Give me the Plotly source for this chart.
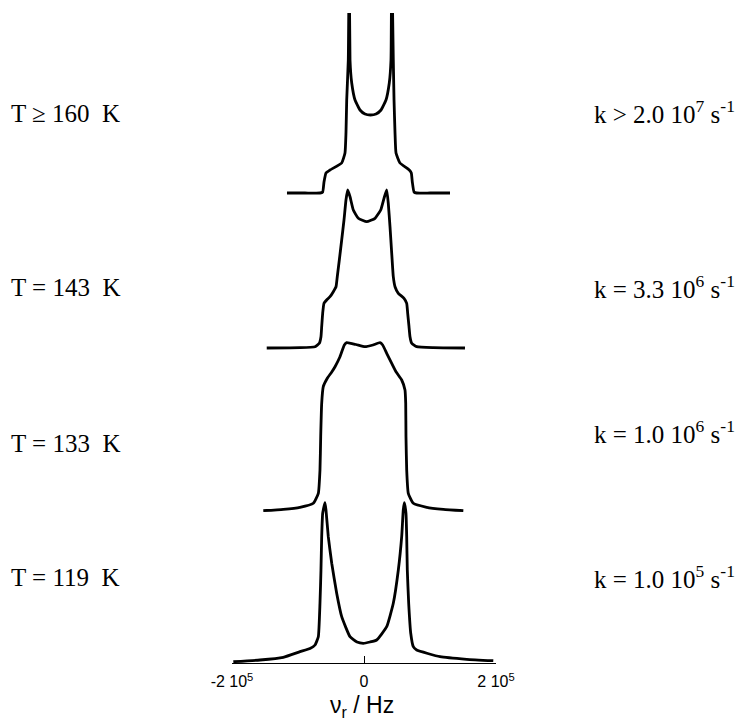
import plotly.graph_objects as go

# Frequency axis (kHz) and line intensity (arbitrary units) for each temperature.
freq_160 = [-116.7, -89.4, -66.7, -62.6, -60.6, -57.6, -51.5, -33.8, -28.8, -27.3, -26.2,
            -23.8, -22.4, -21.2, -18.6, -13.6, -6.1, 1.5, 9.8, 18.2, 25.8, 33.3, 38.3,
            40.9, 42.0, 44.4, 45.5, 47.0, 48.5, 54.5, 68.6, 71.7, 73.2, 75.8, 79.8, 100.0, 130.3]
int_160 = [0, 0, 0, 1, 11, 20, 23, 30, 40, 60, 93,
           133, 233, 133, 110, 93, 83, 79, 78, 79, 83, 93, 110,
           133, 233, 133, 93, 60, 40, 30, 23, 20, 11, 1, 0, 0, 0]

freq_143 = [-147.4, -97.0, -74.2, -67.7, -65.2, -64.1, -62.6, -60.6, -55.6, -51.5, -46.5,
            -42.4, -40.5, -37.4, -33.8, -30.3, -27.3, -24.7, -21.2, -16.2, -8.6, 4.1,
            16.7, 25.3, 30.3, 34.4, 36.8, 39.4, 42.0, 44.4, 47.0, 52.0, 60.6, 64.7,
            66.2, 68.2, 69.7, 72.3, 79.8, 105.0, 153.0]
int_143 = [0, 0.3, 1.3, 4.7, 11.3, 21.3, 34.7, 44.7, 48.7, 51.3, 56.3,
           61.3, 71.3, 88, 108, 128, 148, 158, 151.3, 138, 129.7, 126.3,
           129.7, 138, 149.7, 158, 144.7, 121.3, 94.7, 71.3, 61.3, 54.7, 49.7, 44.7,
           34.7, 21.3, 11.3, 4.7, 1.3, 0.3, 0]

freq_133 = [-152.6, -122.3, -97.0, -76.8, -69.2, -66.7, -65.6, -64.1, -61.7, -55.6, -48.9,
            -43.9, -36.4, -29.8, -26.2, -12.1, 1.5, 13.6, 24.2, 28.3, 34.4, 42.0, 48.5,
            57.1, 62.1, 63.2, 63.6, 64.7, 67.1, 74.7, 95.0, 120.2, 150.5]
int_133 = [0.3, 1.7, 3.7, 7.7, 17.7, 41, 74.3, 107.7, 124.3, 132.7, 139,
           144.3, 154.3, 166, 168.3, 166.5, 164.3, 166, 168.3, 166, 157.7, 147.7, 139.3,
           131, 121, 107.7, 74.3, 41, 17.7, 7.7, 3.7, 1.7, 0.3]

freq_119 = [-198.0, -157.6, -122.3, -97.0, -81.8, -74.2, -69.2, -66.7, -65.2, -64.1, -62.6,
            -59.1, -57.6, -54.1, -48.9, -41.4, -33.8, -21.2, -10.6, -1.1, 9.1, 19.2,
            34.4, 44.4, 52.0, 57.1, 59.5, 61.1, 63.6, 64.7, 65.6, 67.7, 70.8, 74.7,
            79.8, 115.2, 155.6, 195.9]
int_119 = [0.3, 2, 4.7, 10.3, 13.5, 17, 25.3, 58.7, 92, 125.3, 148.7,
           159.3, 152, 125.3, 98.7, 68.7, 45.3, 25.3, 20, 18.7, 20, 22,
           35.3, 58.7, 92, 125.3, 152, 159.3, 148.7, 125.3, 92, 58.7, 28.7, 15.3,
           12, 5.3, 2.7, 1.3]

# Vertical stacking of the spectra (baseline of each trace)
offsets = {"160": 470, "143": 315, "133": 152, "119": 1}

temp_labels = ["T \u2265 160  K", "T = 143  K", "T = 133  K", "T = 119  K"]
rate_labels = ["k > 2.0 10<sup>7</sup> s<sup>-1</sup>",
               "k = 3.3 10<sup>6</sup> s<sup>-1</sup>",
               "k = 1.0 10<sup>6</sup> s<sup>-1</sup>",
               "k = 1.0 10<sup>5</sup> s<sup>-1</sup>"]
tick_vals = [-2e5, 0, 2e5]
tick_text = ["-2 10<sup>5</sup>", "0", "2 10<sup>5</sup>"]

series = [
    ("160", freq_160, int_160),
    ("143", freq_143, int_143),
    ("133", freq_133, int_133),
    ("119", freq_119, int_119),
]

fig = go.Figure()
for key, f, a in series:
    fig.add_trace(go.Scatter(
        x=[v * 1e3 for v in f],
        y=[v + offsets[key] for v in a],
        mode="lines",
        line=dict(color="black", width=2.8, shape="spline", smoothing=0.4),
        showlegend=False,
        hoverinfo="skip",
    ))

W, H = 737, 720
L, R, T, B = 232, 241, 13, 57
pw, ph = W - L - R, H - T - B


def px_to_paper(xp, yp):
    return (xp - L) / pw, (H - B - yp) / ph


serif = dict(family="Liberation Serif, Times New Roman, serif", size=25, color="black")
label_rows_T = [113, 287, 443, 577]
label_rows_k = [112, 287, 432, 577]
for txt, yp in zip(temp_labels, label_rows_T):
    xp, yq = px_to_paper(9, yp)
    fig.add_annotation(x=xp, y=yq, xref="paper", yref="paper", text=txt,
                       showarrow=False, xanchor="left", yanchor="middle", font=serif)
for txt, yp in zip(rate_labels, label_rows_k):
    xp, yq = px_to_paper(592, yp)
    fig.add_annotation(x=xp, y=yq, xref="paper", yref="paper", text=txt,
                       showarrow=False, xanchor="left", yanchor="middle", font=serif)

# axis title
xp, yq = px_to_paper(362, 706)
fig.add_annotation(x=xp, y=yq, xref="paper", yref="paper",
                   text="\u03bd<sub>r</sub> / Hz", showarrow=False,
                   xanchor="center", yanchor="middle",
                   font=dict(family="Liberation Sans, Arial, sans-serif", size=23, color="black"))

fig.update_layout(
    width=W, height=H,
    margin=dict(l=L, r=R, t=T, b=B, autoexpand=False),
    paper_bgcolor="white", plot_bgcolor="white",
    template="none",
    showlegend=False,
)
fig.update_xaxes(
    range=[-2e5, 2e5], showgrid=False, zeroline=False,
    showline=True, linecolor="black", linewidth=1.3,
    ticks="inside", ticklen=7, tickwidth=1.3, tickcolor="black",
    tickvals=tick_vals, ticktext=tick_text, ticklabelstandoff=4,
    tickfont=dict(family="Liberation Sans, Arial, sans-serif", size=16, color="black"),
    fixedrange=True,
)
fig.update_yaxes(range=[0, ph], visible=False, showgrid=False, zeroline=False, fixedrange=True)

fig.write_html("out.html")
